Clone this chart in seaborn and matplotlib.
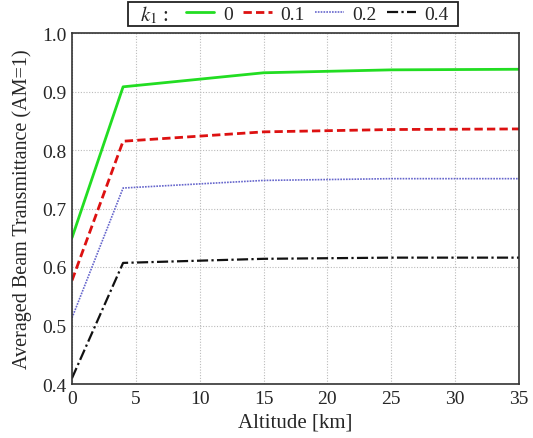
import matplotlib
matplotlib.use("Agg")
import matplotlib.pyplot as plt
from matplotlib.patches import Rectangle
import seaborn as sns
import pandas as pd

altitude = [0, 4, 15, 25, 35]
k_labels = ["0", "0.1", "0.2", "0.4"]
t_k0 = [0.650, 0.908, 0.932, 0.937, 0.938]
t_k01 = [0.577, 0.815, 0.831, 0.835, 0.836]
t_k02 = [0.513, 0.735, 0.748, 0.751, 0.751]
t_k04 = [0.410, 0.607, 0.614, 0.616, 0.616]
series = [t_k0, t_k01, t_k02, t_k04]

rows = []
for lab, vals in zip(k_labels, series):
    for a, v in zip(altitude, vals):
        rows.append({"Altitude": a, "T": v, "k": lab})
df = pd.DataFrame(rows)

sns.set_style("white")
plt.rcParams["font.family"] = ["Liberation Serif", "DejaVu Serif"]
plt.rcParams["mathtext.fontset"] = "stix"

W, H = 533, 439
fig = plt.figure(figsize=(W / 100, H / 100), dpi=100)
ax = fig.add_axes([72 / W, 1 - 385 / H, (519 - 72) / W, (385 - 34) / H])

colors = ["#22dd22", "#dd1111", "#6666cc", "#111111"]
styles = ["-", (0, (3, 1.5)), (0, (1, 0.7)), (0, (5, 1.5, 1, 1.5))]
widths = [2.0, 2.0, 1.2, 1.6]
for lab, c, ls, lw in zip(k_labels, colors, styles, widths):
    sub = df[df["k"] == lab]
    sns.lineplot(data=sub, x="Altitude", y="T", ax=ax, color=c, linestyle=ls,
                 linewidth=lw, label=lab)

ax.set_xlim(0, 35)
ax.set_ylim(0.4, 1.0)
ax.set_xticks(range(0, 36, 5))
ax.set_yticks([0.4, 0.5, 0.6, 0.7, 0.8, 0.9, 1.0])
ax.set_yticklabels(["0.4", "0.5", "0.6", "0.7", "0.8", "0.9", "1.0"])
ax.grid(True, color="#bbbbbb", linestyle=(0, (1, 1.5)), linewidth=0.8)
for s in ax.spines.values():
    s.set_visible(True)
    s.set_color("#333333")
    s.set_linewidth(1.2)
ax.tick_params(labelsize=14, length=0, pad=4)
ax.set_xlabel("Altitude [km]", fontsize=15, labelpad=4)
ax.set_ylabel("Averaged Beam Transmittance (AM=1)", fontsize=14.5, labelpad=7)

handles, labels = ax.get_legend_handles_labels()
leg = ax.legend(handles, labels, loc="center left",
                bbox_to_anchor=(186 / W, 1 - 15 / H), bbox_transform=fig.transFigure,
                ncol=4, frameon=False, fontsize=14,
                handlelength=1.45, columnspacing=0.55, handletextpad=0.45,
                borderpad=0.0, borderaxespad=0.0)
fig.text(140 / W, 1 - 15 / H, "$k_1$ :", fontsize=15, va="center", ha="left")
fig.patches.append(Rectangle((128 / W, 1 - 27 / H), (458 - 128) / W, 24 / H,
                             transform=fig.transFigure, fill=False,
                             edgecolor="#222222", linewidth=1.3))

fig.savefig("out.png", dpi=100)
